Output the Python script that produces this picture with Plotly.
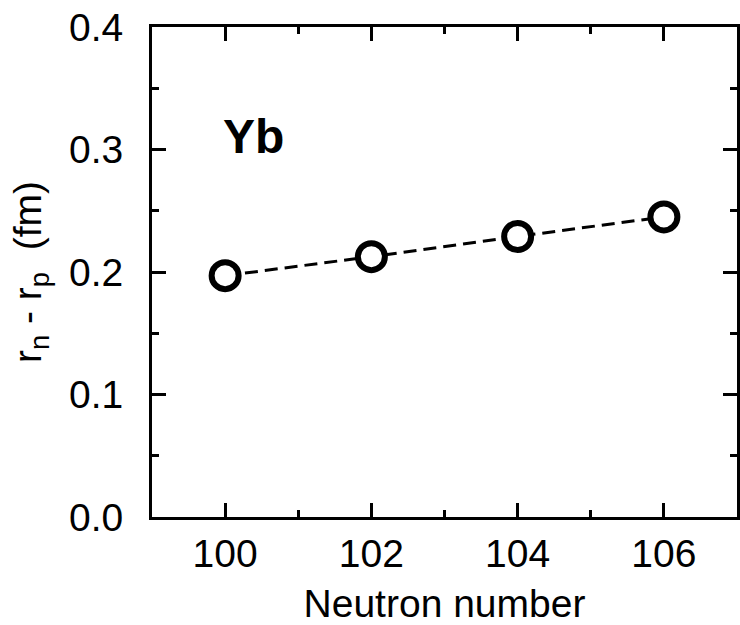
import plotly.graph_objects as go

neutron_number = [100, 102, 104, 106]
rn_minus_rp = [0.197, 0.2125, 0.229, 0.245]
element_label = "Yb"
x_ticks = [100, 102, 104, 106]
y_ticks = [0.0, 0.1, 0.2, 0.3, 0.4]
y_tick_text = ["0.0", "0.1", "0.2", "0.3", "0.4"]

FONT = "Liberation Sans, Arial, sans-serif"
FS = 39

fig = go.Figure()
fig.add_trace(go.Scatter(
    x=neutron_number, y=rn_minus_rp, mode="lines+markers",
    line=dict(color="black", width=3, dash="13px,7px"),
    marker=dict(symbol="circle", size=27, color="white",
                line=dict(color="black", width=6)),
    showlegend=False,
))

fig.add_annotation(x=99.94, y=0.311, xref="x", yref="y", text="<b>%s</b>" % element_label,
                   showarrow=False, xanchor="left", yanchor="middle",
                   font=dict(family=FONT, size=48, color="black"))

axis_common = dict(
    showline=True, linecolor="black", linewidth=3, mirror="ticks",
    ticks="inside", tickcolor="black", tickwidth=3,
    showgrid=False, zeroline=False,
    tickfont=dict(family=FONT, size=FS, color="black"),
)

fig.update_xaxes(range=[99, 107], tickvals=x_ticks, ticklen=14,
                 minor=dict(dtick=1, ticklen=7, ticks="inside", tickcolor="black", tickwidth=3),
                 title=dict(text="Neutron number", font=dict(family=FONT, size=FS, color="black"), standoff=18),
                 **axis_common)
fig.update_yaxes(range=[0, 0.4], tickvals=y_ticks, ticktext=y_tick_text, ticklen=14,
                 ticklabelstandoff=18,
                 minor=dict(dtick=0.05, ticklen=7, ticks="inside", tickcolor="black", tickwidth=3),
                 title=dict(text="r<sub>n</sub> - r<sub>p</sub>  (fm)", font=dict(family=FONT, size=FS, color="black"), standoff=16),
                 **axis_common)

fig.update_layout(width=740, height=625, margin=dict(l=152, r=3, t=27, b=108, autoexpand=False),
                  paper_bgcolor="white", plot_bgcolor="white")

fig.write_html("out.html")
